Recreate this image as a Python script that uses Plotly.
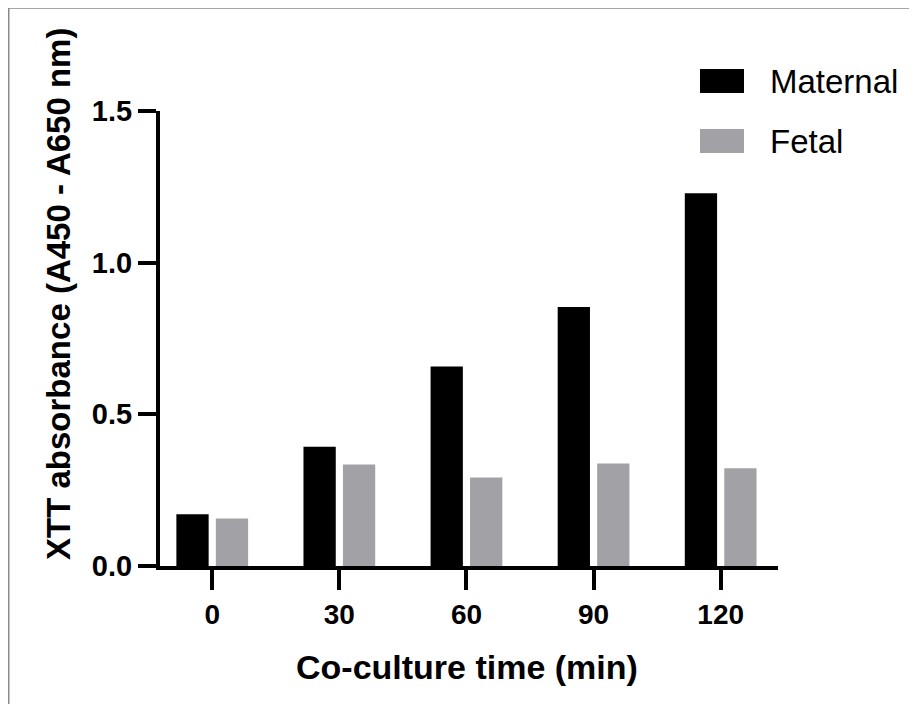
import plotly.graph_objects as go

# ---- data ----
time_labels = ["0", "30", "60", "90", "120"]
series_names = ["Maternal", "Fetal"]
maternal = [0.171, 0.393, 0.658, 0.854, 1.229]
fetal = [0.157, 0.335, 0.292, 0.338, 0.322]
y_ticks = [0.0, 0.5, 1.0, 1.5]
y_tick_text = ["0.0", "0.5", "1.0", "1.5"]
x_title = "Co-culture time (min)"
y_title = "XTT absorbance (A450 - A650 nm)"

colors = ["#000000", "#a2a2a6"]

# the page body has an 8px margin; work in screenshot pixels and shift
OFF = 8
W, H = 917 - OFF, 704 - OFF
L, R, T, B = 160 - OFF, 778 - OFF, 111 - OFF, 566 - OFF  # plot area in figure pixels


def px_x(px):
    return (px - OFF - L) / (R - L)


def px_y(py):
    return (B - (py - OFF)) / (B - T)


FONT = "Arial, 'Liberation Sans', Helvetica, sans-serif"

fig = go.Figure()
for name, vals, col in zip(series_names, [maternal, fetal], colors):
    fig.add_trace(go.Bar(x=time_labels, y=vals, name=name,
                         marker=dict(color=col, line=dict(width=0)),
                         showlegend=False))

fig.update_layout(
    width=W, height=H,
    margin=dict(l=L, r=W - R, t=T, b=H - B, pad=0),
    paper_bgcolor="white", plot_bgcolor="white",
    barmode="group", bargap=0.379, bargroupgap=0.182,
    font=dict(family=FONT, color="black"),
)
fig.update_xaxes(
    type="category", range=[-0.411, 4.451],
    showline=True, linewidth=4, linecolor="black",
    ticks="outside", ticklen=20, tickwidth=4, tickcolor="black",
    tickfont=dict(size=28, weight="bold", family=FONT),
    showgrid=False, zeroline=False,
)
fig.update_yaxes(
    range=[0, 1.5], tickvals=y_ticks, ticktext=y_tick_text,
    showline=True, linewidth=4, linecolor="black",
    ticks="outside", ticklen=18, tickwidth=4, tickcolor="black",
    tickfont=dict(size=29, weight="bold", family=FONT),
    showgrid=False, zeroline=False,
)

# axis titles
fig.add_annotation(text=x_title, xref="paper", yref="paper",
                   x=px_x(466.5), y=px_y(667), xanchor="center", yanchor="middle",
                   showarrow=False, font=dict(size=34, weight="bold", family=FONT))
fig.add_annotation(text=y_title, xref="paper", yref="paper",
                   x=px_x(58), y=px_y(294), xanchor="center", yanchor="middle",
                   textangle=-90, showarrow=False,
                   font=dict(size=33, weight="bold", family=FONT))

# legend (manual)
for i, (name, col) in enumerate(zip(series_names, colors)):
    y0 = 69 + 60 * i
    fig.add_shape(type="rect", xref="paper", yref="paper",
                  x0=px_x(700), x1=px_x(744), y0=px_y(y0 + 24), y1=px_y(y0),
                  fillcolor=col, line=dict(width=0))
    fig.add_annotation(text=name, xref="paper", yref="paper",
                       x=px_x(768), y=px_y(y0 + 12), xanchor="left", yanchor="middle",
                       showarrow=False, font=dict(size=33, family=FONT))

# frame (left and top edge)
fig.add_shape(type="path", xref="paper", yref="paper",
              path=f"M {px_x(8.75)},{px_y(704)} L {px_x(8.75)},{px_y(8.0)} L {px_x(917)},{px_y(8.0)}",
              line=dict(color="#8a8a8a", width=1.5))

fig.write_html("out.html")
